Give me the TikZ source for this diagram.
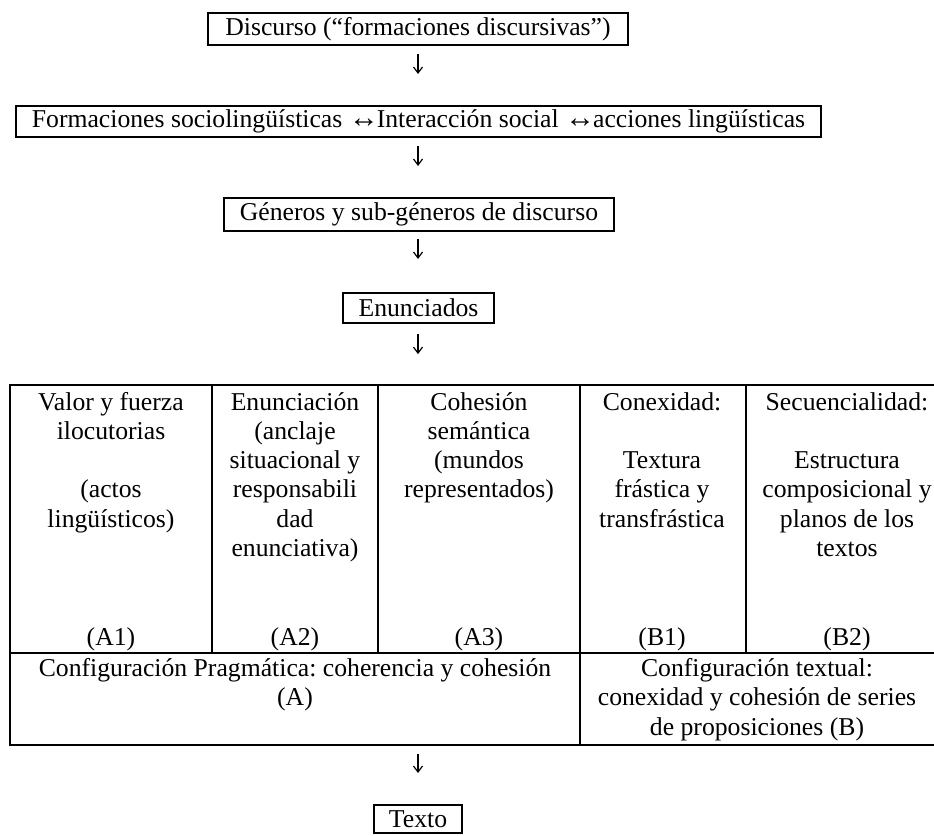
\documentclass[tikz,border=0pt]{standalone}
\usepackage{fontspec}
\setmainfont{Liberation Serif}
\usetikzlibrary{arrows.meta}
\newcommand{\diagfont}{\fontsize{25.7}{29.2}\selectfont\frenchspacing}
\begin{document}
\begin{tikzpicture}[x=1pt,y=-1pt,
  box/.style={draw, line width=2pt, inner sep=0pt, align=center, font=\diagfont},
  cell/.style={draw, line width=1.8pt, inner sep=0pt},
  celltext/.style={inner sep=0pt, align=center, anchor=north, font=\diagfont},
  celllabel/.style={inner sep=0pt, anchor=base, font=\diagfont},
  downarr/.style={-{Straight Barb[length=6pt,width=9pt]}, line width=1.2pt}]
\useasboundingbox (0,0) rectangle (934,835);

% boxes
\node[box, minimum width=420, minimum height=32] (disc) at (418,29) {Discurso (“formaciones discursivas”)};
\node[box, minimum width=805, minimum height=31] (form) at (418.5,121.5) {Formaciones sociolingüísticas {\fontsize{30}{30}\selectfont↔}\kern-2pt Interacción social {\fontsize{30}{30}\selectfont↔}\kern-2pt acciones lingüísticas};
\node[box, minimum width=390, minimum height=33] (gen) at (419,214.5) {Géneros y sub-géneros de discurso};
\node[box, minimum width=151, minimum height=30] (enun) at (418.5,308) {Enunciados};
\node[box, minimum width=88, minimum height=28] (texto) at (418,819) {Texto};

% table cells
\node[cell, minimum width=202, minimum height=268] (a1) at (111,519) {};
\node[cell, minimum width=166, minimum height=268] (a2) at (295,519) {};
\node[cell, minimum width=202, minimum height=268] (a3) at (479,519) {};
\node[cell, minimum width=166, minimum height=268] (b1) at (663,519) {};
\node[cell, minimum width=200, minimum height=268] (b2) at (846,519) {};
\node[cell, minimum width=570, minimum height=92] (pa) at (295,699) {};
\node[cell, minimum width=366, minimum height=92] (pb) at (763,699) {};

% cell texts
\node[celltext] (ta1) at (111,389.6) {\strut Valor y fuerza\\ilocutorias\\\strut\\(actos\\lingüísticos)};
\node[celltext] (ta2) at (295,389.6) {\strut Enunciación\\(anclaje\\situacional y\\responsabili\\dad\\enunciativa)};
\node[celltext] (ta3) at (479,389.6) {\strut Cohesión\\semántica\\(mundos\\representados)};
\node[celltext] (tb1) at (662,389.6) {\strut Conexidad:\\\strut\\Textura\\frástica y\\transfrástica};
\node[celltext] (tb2) at (847,389.6) {\strut Secuencialidad:\\\strut\\Estructura\\composicional y\\planos de los\\textos};

\node[celllabel] (la1) at (111,645) {(A1)};
\node[celllabel] (la2) at (295,645) {(A2)};
\node[celllabel] (la3) at (479,645) {(A3)};
\node[celllabel] (lb1) at (662,645) {(B1)};
\node[celllabel] (lb2) at (847,645) {(B2)};

\node[celltext] (tpa) at (295,656) {\strut Configuración Pragmática: coherencia y cohesión\\(A)};
\node[celltext] (tpb) at (757,656) {\strut Configuración textual:\\conexidad y cohesión de series\\de proposiciones (B)};

% arrows
\coordinate (ax) at (418,0);
\draw[downarr, shorten <=8pt, shorten >=31pt] (ax |- disc.south) -- (ax |- form.north);
\draw[downarr, shorten <=8pt, shorten >=31pt] (ax |- form.south) -- (ax |- gen.north);
\draw[downarr, shorten <=7pt, shorten >=33pt] (ax |- gen.south) -- (ax |- enun.north);
\draw[downarr, shorten <=10pt, shorten >=30pt] (ax |- enun.south) -- (ax |- a3.north);
\draw[downarr, shorten <=8pt, shorten >=31pt] (ax |- pa.south) -- (ax |- texto.north);
\end{tikzpicture}
\end{document}
